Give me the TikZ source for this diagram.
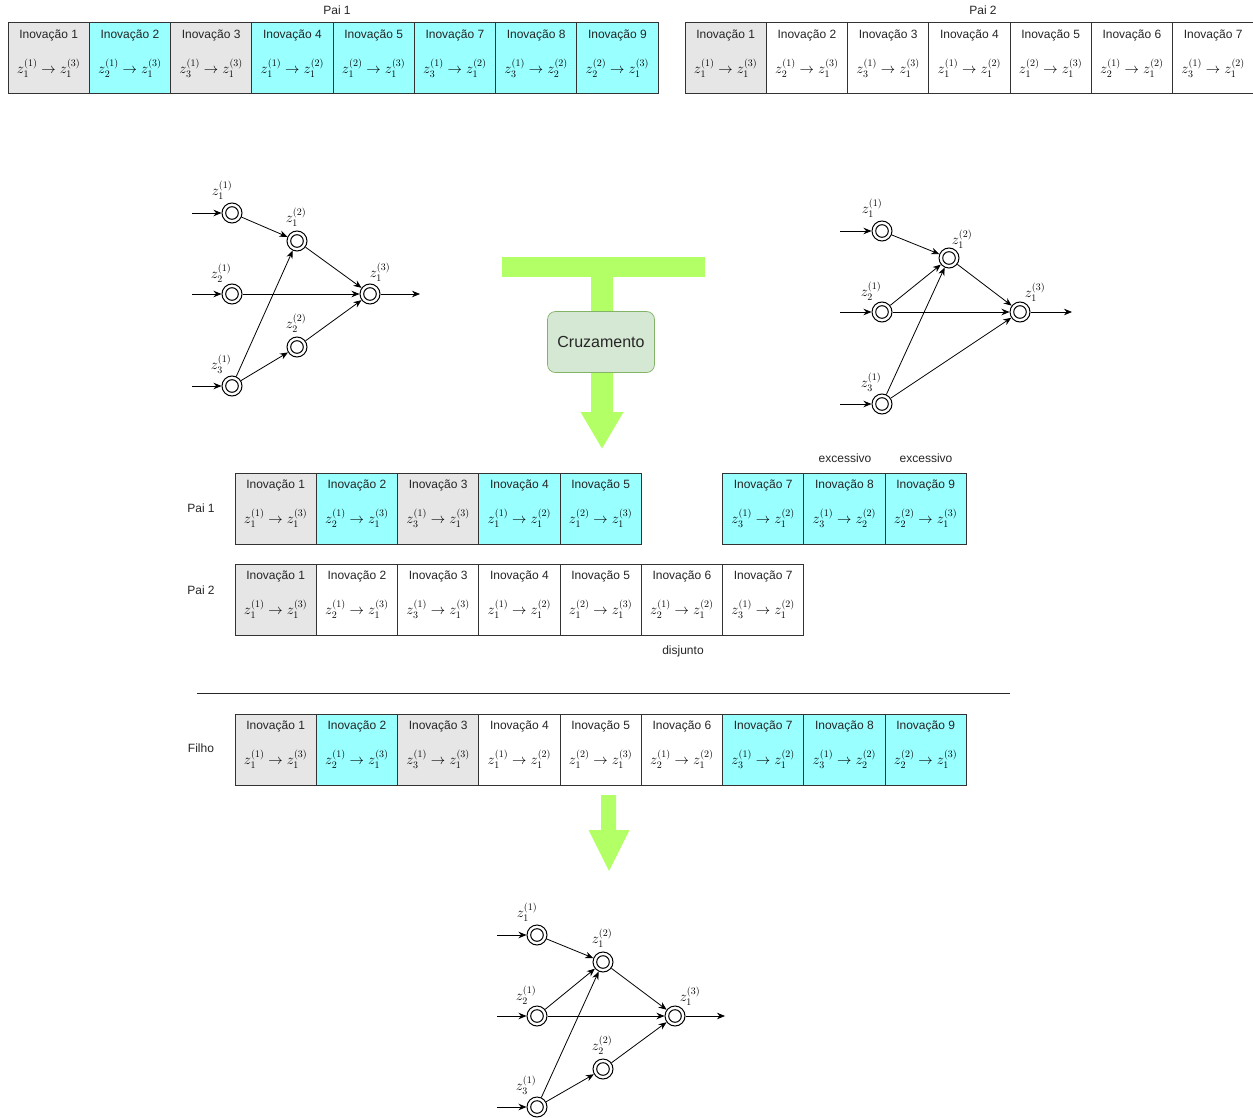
\documentclass[tikz,border=0pt]{standalone}
\usepackage{fontspec}
\setmainfont{Liberation Sans}
\usetikzlibrary{arrows.meta}

\definecolor{genegray}{HTML}{E6E6E6}
\definecolor{genecyan}{HTML}{99FFFF}
\definecolor{cellline}{HTML}{333333}
\definecolor{flowgreen}{HTML}{B3FF66}
\definecolor{boxfill}{HTML}{D5E8D4}
\definecolor{boxline}{HTML}{82B366}

\tikzset{
  genebox/.style={draw=cellline, line width=1pt, minimum width=81.25pt,
    minimum height=71pt, inner sep=0pt, outer sep=0pt},
  genetitle/.style={font=\fontsize{12}{14}\selectfont, inner sep=0pt, text=black!85},
  genemath/.style={font=\fontsize{14}{16}\selectfont, inner sep=0pt},
  caption/.style={font=\fontsize{12}{14}\selectfont, inner sep=0pt, text=black!85},
  neuron/.style={circle, draw, fill=white, minimum size=20pt, inner sep=0pt, line width=1pt,
    path picture={\draw[line width=1pt] (path picture bounding box.center) circle (6.3pt);}},
  zlabel/.style={font=\fontsize{14}{16}\selectfont, inner sep=0pt},
  link/.style={-{Stealth[length=8pt,width=6.5pt]}, line width=0.8pt},
  flow/.style={fill=flowgreen, draw=none},
  mergebox/.style={draw=boxline, fill=boxfill, rounded corners=8pt, line width=0.7pt,
    minimum width=107pt, minimum height=61pt, font=\fontsize{16}{18}\selectfont, text=black!85},
}

% one gene cell: name, left x, top y, fill, innovation number, connection
\newcommand\genecell[6]{%
  \node[genebox, fill=#4, anchor=north west] (#1) at ({#2},{#3}) {};
  \node[genetitle] (#1-t) at ([yshift=-12pt]#1.north) {Inovação #5};
  \node[genemath] (#1-m) at ([yshift=-45pt]#1.north) {$#6$};}

% one neuron with its label: name, x, y, label shift x, label shift y, label
\newcommand\neuron[6]{%
  \node[neuron] (#1) at (#2,#3) {};
  \node[zlabel] (#1-lab) at ([xshift=#4pt,yshift=#5pt]#1.center) {$#6$};}

\begin{document}
\begin{tikzpicture}[x=1pt, y=-1pt]
\fill[white] (0,0) rectangle (1253,1118);
\useasboundingbox (0,0) rectangle (1253,1118);

% ---------- genomes of the two parents ----------
\node[caption] (capP1) at (337,10) {Pai 1};
\foreach \p/\f/\n/\m in {
  0/genegray/1/{z_1^{(1)}\to z_1^{(3)}},
  1/genecyan/2/{z_2^{(1)}\to z_1^{(3)}},
  2/genegray/3/{z_3^{(1)}\to z_1^{(3)}},
  3/genecyan/4/{z_1^{(1)}\to z_1^{(2)}},
  4/genecyan/5/{z_1^{(2)}\to z_1^{(3)}},
  5/genecyan/7/{z_3^{(1)}\to z_1^{(2)}},
  6/genecyan/8/{z_3^{(1)}\to z_2^{(2)}},
  7/genecyan/9/{z_2^{(2)}\to z_1^{(3)}}}
  {\genecell{top1-\n}{8+81.25*\p}{23}{\f}{\n}{\m}}

\node[caption] (capP2) at (983,10) {Pai 2};
\foreach \p/\f/\n/\m in {
  0/genegray/1/{z_1^{(1)}\to z_1^{(3)}},
  1/white/2/{z_2^{(1)}\to z_1^{(3)}},
  2/white/3/{z_3^{(1)}\to z_1^{(3)}},
  3/white/4/{z_1^{(1)}\to z_1^{(2)}},
  4/white/5/{z_1^{(2)}\to z_1^{(3)}},
  5/white/6/{z_2^{(1)}\to z_1^{(2)}},
  6/white/7/{z_3^{(1)}\to z_1^{(2)}}}
  {\genecell{top2-\n}{685+81.25*\p}{23}{\f}{\n}{\m}}

% ---------- network of parent 1 ----------
\neuron{L11}{232}{213}{-10}{23}{z_1^{(1)}}
\neuron{L21}{232}{294}{-11}{21}{z_2^{(1)}}
\neuron{L31}{232}{386}{-11}{22}{z_3^{(1)}}
\neuron{L12}{297}{241}{-1}{24}{z_1^{(2)}}
\neuron{L22}{297}{347}{-1}{24}{z_2^{(2)}}
\neuron{L13}{370}{294}{10}{22}{z_1^{(3)}}
\coordinate (Lin1) at (192,213);
\coordinate (Lin2) at (192,294);
\coordinate (Lin3) at (192,386);
\coordinate (Lout) at (420,294);
\draw[link] (Lin1) -- (L11);
\draw[link] (Lin2) -- (L21);
\draw[link] (Lin3) -- (L31);
\draw[link] (L13) -- (Lout);
\draw[link] (L11) -- (L12);
\draw[link] (L21) -- (L13);
\draw[link] (L31) -- (L12);
\draw[link] (L31) -- (L22);
\draw[link] (L12) -- (L13);
\draw[link] (L22) -- (L13);

% ---------- network of parent 2 ----------
\neuron{R11}{882}{231}{-10}{23}{z_1^{(1)}}
\neuron{R21}{882}{312}{-11}{21}{z_2^{(1)}}
\neuron{R31}{882}{404}{-11}{22}{z_3^{(1)}}
\neuron{R12}{949}{258}{13}{19}{z_1^{(2)}}
\neuron{R13}{1020}{312}{15}{20}{z_1^{(3)}}
\coordinate (Rin1) at (840,231);
\coordinate (Rin2) at (840,312);
\coordinate (Rin3) at (840,404);
\coordinate (Rout) at (1072,312);
\draw[link] (Rin1) -- (R11);
\draw[link] (Rin2) -- (R21);
\draw[link] (Rin3) -- (R31);
\draw[link] (R13) -- (Rout);
\draw[link] (R11) -- (R12);
\draw[link] (R21) -- (R12);
\draw[link] (R21) -- (R13);
\draw[link] (R31) -- (R12);
\draw[link] (R31) -- (R13);
\draw[link] (R12) -- (R13);

% ---------- crossover arrow ----------
\fill[flow] (502,257) rectangle (705,277);
\fill[flow] (591,276) -- (613,276) -- (613,412) -- (623.5,412) -- (602,448.5)
  -- (580.5,412) -- (591,412) -- cycle;
\node[mergebox] (cross) at (601,342) {Cruzamento};

% ---------- aligned genomes ----------
\node[caption] (midP1) at (201,508) {Pai 1};
\foreach \p/\f/\n/\m in {
  0/genegray/1/{z_1^{(1)}\to z_1^{(3)}},
  1/genecyan/2/{z_2^{(1)}\to z_1^{(3)}},
  2/genegray/3/{z_3^{(1)}\to z_1^{(3)}},
  3/genecyan/4/{z_1^{(1)}\to z_1^{(2)}},
  4/genecyan/5/{z_1^{(2)}\to z_1^{(3)}},
  6/genecyan/7/{z_3^{(1)}\to z_1^{(2)}},
  7/genecyan/8/{z_3^{(1)}\to z_2^{(2)}},
  8/genecyan/9/{z_2^{(2)}\to z_1^{(3)}}}
  {\genecell{mid1-\n}{235+81.25*\p}{473}{\f}{\n}{\m}}
\node[caption] (exc8) at (845,458) {excessivo};
\node[caption] (exc9) at (926,458) {excessivo};

\node[caption] (midP2) at (201,590) {Pai 2};
\foreach \p/\f/\n/\m in {
  0/genegray/1/{z_1^{(1)}\to z_1^{(3)}},
  1/white/2/{z_2^{(1)}\to z_1^{(3)}},
  2/white/3/{z_3^{(1)}\to z_1^{(3)}},
  3/white/4/{z_1^{(1)}\to z_1^{(2)}},
  4/white/5/{z_1^{(2)}\to z_1^{(3)}},
  5/white/6/{z_2^{(1)}\to z_1^{(2)}},
  6/white/7/{z_3^{(1)}\to z_1^{(2)}}}
  {\genecell{mid2-\n}{235+81.25*\p}{564}{\f}{\n}{\m}}
\node[caption] (disj) at (683,651) {disjunto};

\draw[line width=0.8pt, black!85] (197,693) -- (1010,693);

% ---------- offspring genome ----------
\node[caption] (capF) at (201,748) {Filho};
\foreach \p/\f/\n/\m in {
  0/genegray/1/{z_1^{(1)}\to z_1^{(3)}},
  1/genecyan/2/{z_2^{(1)}\to z_1^{(3)}},
  2/genegray/3/{z_3^{(1)}\to z_1^{(3)}},
  3/white/4/{z_1^{(1)}\to z_1^{(2)}},
  4/white/5/{z_1^{(2)}\to z_1^{(3)}},
  5/white/6/{z_2^{(1)}\to z_1^{(2)}},
  6/genecyan/7/{z_3^{(1)}\to z_1^{(2)}},
  7/genecyan/8/{z_3^{(1)}\to z_2^{(2)}},
  8/genecyan/9/{z_2^{(2)}\to z_1^{(3)}}}
  {\genecell{kid-\n}{235+81.25*\p}{714}{\f}{\n}{\m}}

\fill[flow] (601,795) -- (616,795) -- (616,830) -- (629.5,830) -- (609,871)
  -- (588.5,830) -- (601,830) -- cycle;

% ---------- offspring network ----------
\neuron{C11}{537}{935}{-10}{23}{z_1^{(1)}}
\neuron{C21}{537}{1016}{-11}{21}{z_2^{(1)}}
\neuron{C31}{537}{1107}{-11}{22}{z_3^{(1)}}
\neuron{C12}{603}{962}{-1}{24}{z_1^{(2)}}
\neuron{C22}{603}{1069}{-1}{24}{z_2^{(2)}}
\neuron{C13}{675}{1016}{15}{20}{z_1^{(3)}}
\coordinate (Cin1) at (497,935);
\coordinate (Cin2) at (497,1016);
\coordinate (Cin3) at (497,1107);
\coordinate (Cout) at (725,1016);
\draw[link] (Cin1) -- (C11);
\draw[link] (Cin2) -- (C21);
\draw[link] (Cin3) -- (C31);
\draw[link] (C13) -- (Cout);
\draw[link] (C11) -- (C12);
\draw[link] (C21) -- (C12);
\draw[link] (C21) -- (C13);
\draw[link] (C31) -- (C12);
\draw[link] (C31) -- (C22);
\draw[link] (C12) -- (C13);
\draw[link] (C22) -- (C13);
\end{tikzpicture}
\end{document}
